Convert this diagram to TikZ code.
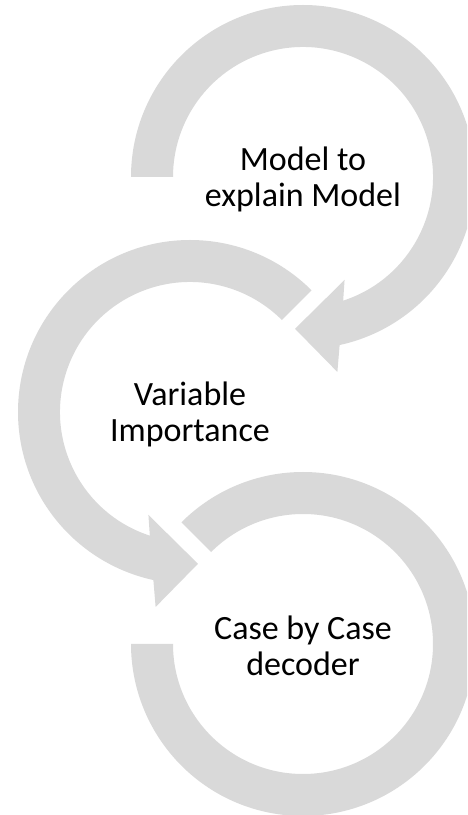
\documentclass[tikz,border=0pt]{standalone}
\usepackage{fontspec}
\setmainfont{Carlito}
\usepackage{tikz}

\definecolor{ringgray}{HTML}{D9D9D9}

\begin{document}
\begin{tikzpicture}
	[x=1pt,y=1pt, ring/.style={fill=ringgray}, step label/.style={align=center,font=\fontsize{34}{36}\selectfont}]
	\useasboundingbox (0,0) rectangle (467,815);
	\clip (0,0) rectangle (467,815);

	% first ring, arrow turning clockwise
	\begin{scope}[shift={(303,638)}]
		\fill[ring] (180:172) arc[start angle=180, end angle=-77.7, radius=172]
			-- (-80:198) -- (-93:152) -- (-68:111) -- (-72:130)
			arc[start angle=-72, end angle=180, radius=130] -- cycle;
		\node[step label] (m1) at (0,-2) {Model to\\explain Model};
	\end{scope}

	% second ring, arrow turning the other way
	\begin{scope}[shift={(190,403)}]
		\fill[ring] (45:172) arc[start angle=45, end angle=257.7, radius=172]
			-- (260:198) -- (273:152) -- (248:111) -- (252:130)
			arc[start angle=252, end angle=45, radius=130] -- cycle;
		\node[step label] (m2) at (0,-2) {Variable\\Importance};
	\end{scope}

	% last ring, no head
	\begin{scope}[shift={(303,171)}]
		\fill[ring] (135:172) arc[start angle=135, end angle=-180, radius=172]
			-- (180:130) arc[start angle=-180, end angle=135, radius=130] -- cycle;
		\node[step label] (m3) at (0,-2) {Case by Case\\decoder};
	\end{scope}
\end{tikzpicture}
\end{document}
